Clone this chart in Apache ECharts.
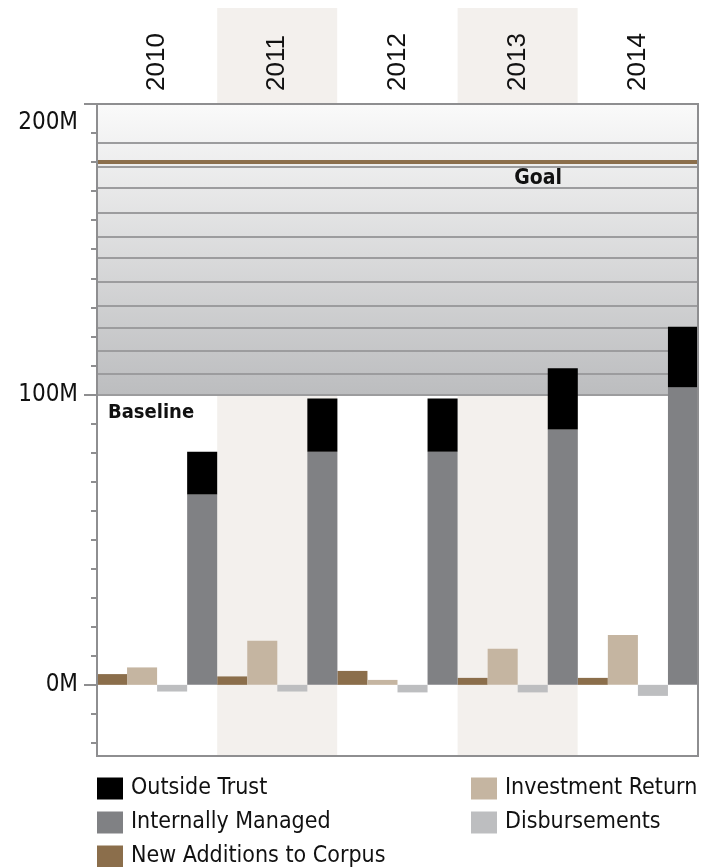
<!DOCTYPE html>
<html>
<head>
<meta charset="utf-8">
<script src="https://cdn.jsdelivr.net/npm/echarts@6/dist/echarts.min.js"></script>
<style>
html,body{margin:0;padding:0;background:#fff;}
#chart{width:711px;height:867px;}
</style>
</head>
<body>
<div id="chart"></div>
<script>
var years = ['2010', '2011', '2012', '2013', '2014'];
var newAdditions = [3.7, 2.9, 4.8, 2.4, 2.4];
var investmentReturn = [6.0, 15.2, 1.7, 12.4, 17.2];
var disbursements = [-2.3, -2.3, -2.6, -2.6, -3.8];
var internallyManaged = [65.5, 80.3, 80.3, 87.9, 102.5];
var outsideTrust = [14.8, 18.3, 18.3, 21.1, 20.8];
var goalValue = 180;
var baselineValue = 100;
var goalTop = 200;
var bandLines = [107.2, 114.9, 123.0, 130.4, 138.7, 146.9, 154.4, 162.4, 171.0, 178.4, 186.6];
var majorTicks = [0, 100, 200];
var minorTicks = [-20, -10, 0, 10, 20, 30, 40, 50, 60, 70, 80, 90, 100, 110, 120, 130, 140, 150, 160, 170, 180, 190, 200];

var NARROW = "'Liberation Sans Narrow', 'DejaVu Sans Condensed', 'Roboto Condensed', sans-serif";
var AXISGRAY = '#8e8e90';
var stripes = ['#ffffff', '#f3f0ed'];

var chart = echarts.init(document.getElementById('chart'), null, {renderer: 'canvas'});

var markLineData = bandLines.map(function (v) {
  return {yAxis: v, lineStyle: {color: '#9c9c9e', width: 2, type: 'solid'}, label: {show: false}};
});
markLineData.push({
  yAxis: baselineValue,
  lineStyle: {color: '#9c9c9e', width: 2, type: 'solid'},
  label: {show: true, formatter: 'Baseline', position: 'insideStartBottom', distance: [11, 8],
    fontFamily: NARROW, fontWeight: 'bold', fontSize: 20, color: '#111'}
});
markLineData.push({
  yAxis: goalValue,
  lineStyle: {color: '#8b6e4b', width: 4, type: 'solid'},
  label: {show: true, formatter: 'Goal', position: 'insideEndBottom', distance: [136, 6],
    fontFamily: NARROW, fontWeight: 'bold', fontSize: 21, color: '#111'}
});

function barSeries(name, data, color, stack) {
  var s = {
    name: name, type: 'bar', data: data, xAxisIndex: 1, yAxisIndex: 0,
    itemStyle: {color: color}, barGap: '0%', barCategoryGap: '0%', z: 3,
    emphasis: {disabled: true}, animation: false
  };
  if (stack) s.stack = stack;
  return s;
}

var legendText = {fontSize: 23, lineHeight: 22, fontFamily: NARROW, color: '#111', padding: [0, 0, 0, 3]};

var option = {
  animation: false,
  grid: [
    {left: 97, right: 13, top: 8, height: 96, show: false, outerBoundsMode: 'none', containLabel: false},
    {left: 97, right: 13, top: 104, bottom: 111, show: true, z: 10, outerBoundsMode: 'none', containLabel: false,
      backgroundColor: 'transparent', borderColor: AXISGRAY, borderWidth: 2}
  ],
  xAxis: [
    {type: 'category', gridIndex: 0, data: years, z: 0,
      axisLine: {show: false}, axisTick: {show: false}, axisLabel: {show: false},
      splitLine: {show: false},
      splitArea: {show: true, interval: 0, areaStyle: {color: stripes}}},
    {type: 'category', gridIndex: 1, data: years, position: 'top', z: 1,
      axisLine: {show: false}, axisTick: {show: false},
      axisLabel: {show: true, interval: 0, rotate: 90, margin: 13, fontSize: 26,
        fontFamily: "'Liberation Sans', Arial, sans-serif", color: '#111'},
      splitLine: {show: false},
      splitArea: {show: true, interval: 0, areaStyle: {color: stripes}}}
  ],
  yAxis: [
    {type: 'value', gridIndex: 1, position: 'left', min: -24.5, max: goalTop,
      axisLine: {show: true, lineStyle: {color: AXISGRAY, width: 2}},
      axisTick: {show: true, customValues: minorTicks, length: 6, lineStyle: {color: AXISGRAY, width: 2}},
      axisLabel: {show: false}, splitLine: {show: false}},
    {type: 'value', gridIndex: 1, position: 'left', offset: 0, min: -24.5, max: goalTop,
      axisLine: {show: false},
      axisTick: {show: true, customValues: majorTicks, length: 13, lineStyle: {color: AXISGRAY, width: 2}},
      axisLabel: {show: true, customValues: majorTicks, margin: 19, fontSize: 24,
        fontFamily: NARROW, color: '#111',
        formatter: function (v) { return v === goalTop ? '{t|' + v + 'M}' : v + 'M'; },
        rich: {t: {padding: [38, 0, 0, 0], fontSize: 24, fontFamily: NARROW, color: '#111'}}},
      splitLine: {show: false}},
    {type: 'value', gridIndex: 0, show: false}
  ],
  legend: [
    {orient: 'vertical', left: 97, top: 777, height: 120, padding: 0, itemWidth: 26, itemHeight: 22, itemGap: 11,
      icon: 'rect', selectedMode: false, textStyle: legendText,
      data: ['Outside Trust', 'Internally Managed', 'New Additions to Corpus']},
    {orient: 'vertical', left: 471, top: 777, height: 120, padding: 0, itemWidth: 26, itemHeight: 22, itemGap: 11,
      icon: 'rect', selectedMode: false, textStyle: legendText,
      data: ['Investment Return', 'Disbursements']}
  ],
  series: [
    {type: 'line', name: 'goalZone', xAxisIndex: 1, yAxisIndex: 0, data: [], z: 2,
      silent: true, symbol: 'none',
      markArea: {silent: true, z: 2,
        itemStyle: {color: new echarts.graphic.LinearGradient(0, 0, 0, 1, [
          {offset: 0, color: '#fafafa'}, {offset: 1, color: '#bcbdbf'}])},
        data: [[{yAxis: baselineValue}, {yAxis: goalTop}]]},
      markLine: {silent: true, symbol: ['none', 'none'], z: 2, data: markLineData}
    },
    barSeries('New Additions to Corpus', newAdditions, '#8b6e4b'),
    barSeries('Investment Return', investmentReturn, '#c5b5a1'),
    barSeries('Disbursements', disbursements, '#bdbec0'),
    barSeries('Internally Managed', internallyManaged, '#808184', 'trust'),
    barSeries('Outside Trust', outsideTrust, '#000000', 'trust')
  ]
};
chart.setOption(option);
</script>
</body>
</html>
